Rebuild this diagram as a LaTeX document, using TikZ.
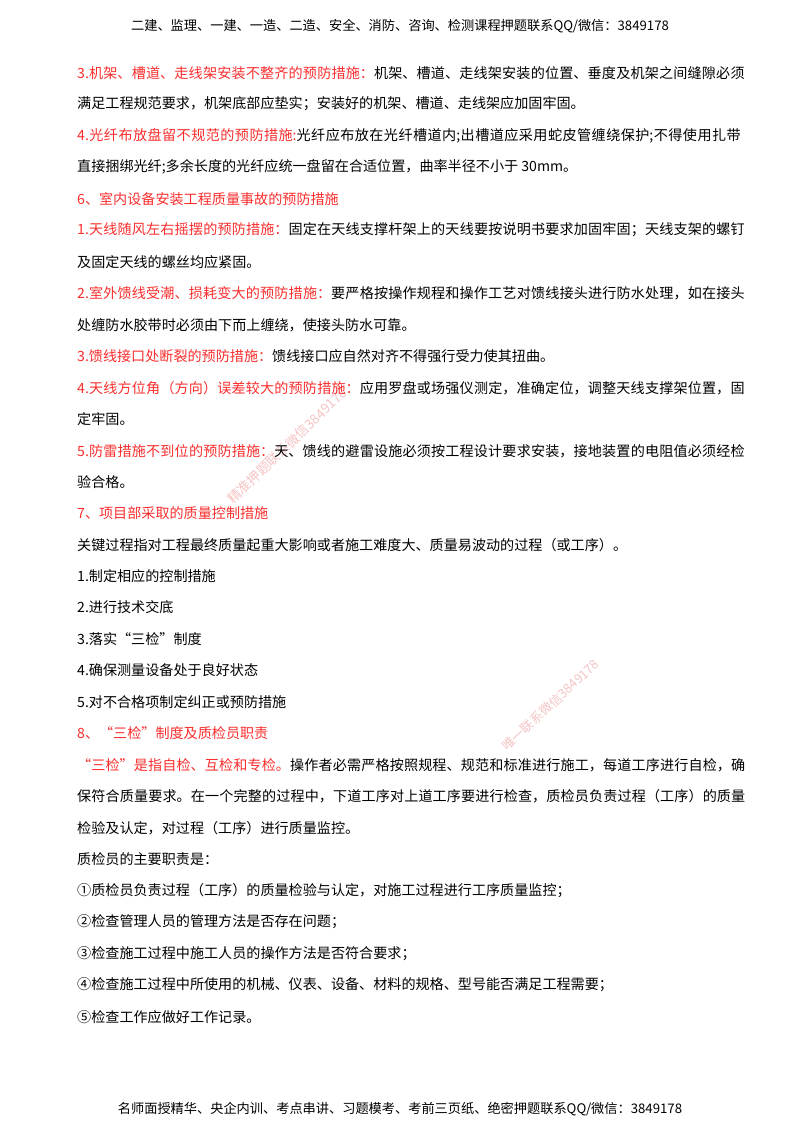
\documentclass[tikz,border=0pt]{standalone}
\usepackage{fontspec}
\setmainfont{Noto Sans CJK SC}
\XeTeXlinebreaklocale "zh"
\XeTeXlinebreakskip=0pt plus 2pt minus 0.3pt
\usepackage{tikz}
\definecolor{headred}{RGB}{250,45,45}
\definecolor{markpink}{RGB}{245,195,195}
\newcommand{\bodysize}{\fontsize{14.1}{16}\selectfont}
\newcommand{\redtext}[1]{\textcolor{headred}{#1}}
\tikzset{
	banner/.style={inner sep=0pt,font=\fontsize{13.2}{16}\selectfont},
	fullline/.style={anchor=west,inner sep=0pt,text width=670pt,font=\bodysize,execute at begin node={\parfillskip 0pt\relax}},
	shortline/.style={anchor=west,inner sep=0pt,font=\bodysize},
	wmark/.style={anchor=south west,inner sep=0pt,rotate=44,text=markpink,font=\fontsize{13.4}{16}\selectfont}
}

\begin{document}
\begin{tikzpicture}[x=1pt,y=-1pt]
	\useasboundingbox (0,0) rectangle (800,1132);

	\node [wmark] (markA) at (234,506) {精准押题联系微信3849178};
	\node [wmark,rotate=-1,font=\fontsize{12.8}{16}\selectfont] (markB) at (508,753) {唯一联系微信3849178};

	\node [banner] (top) at (400,26) {二建、监理、一建、一造、二造、安全、消防、咨询、检测课程押题联系QQ/微信：3849178};

	\node [fullline] (l1) at (77,73) {\redtext{3.机架、槽道、走线架安装不整齐的预防措施：}机架、槽道、走线架安装的位置、垂度及机架之间缝隙必须};
	\node [shortline] (l2) at (77,104) {满足工程规范要求，机架底部应垫实；安装好的机架、槽道、走线架应加固牢固。};
	\node [fullline] (l3) at (77,136) {\redtext{4.光纤布放盘留不规范的预防措施:}光纤应布放在光纤槽道内;出槽道应采用蛇皮管缠绕保护;不得使用扎带};
	\node [shortline] (l4) at (77,167) {直接捆绑光纤;多余长度的光纤应统一盘留在合适位置，曲率半径不小于 30mm。};
	\node [shortline] (l5) at (77,199) {\redtext{6、室内设备安装工程质量事故的预防措施}};
	\node [fullline] (l6) at (77,230) {\redtext{1.天线随风左右摇摆的预防措施：}固定在天线支撑杆架上的天线要按说明书要求加固牢固；天线支架的螺钉};
	\node [shortline] (l7) at (77,262) {及固定天线的螺丝均应紧固。};
	\node [fullline] (l8) at (77,293) {\redtext{2.室外馈线受潮、损耗变大的预防措施：}要严格按操作规程和操作工艺对馈线接头进行防水处理，如在接头};
	\node [shortline] (l9) at (77,325) {处缠防水胶带时必须由下而上缠绕，使接头防水可靠。};
	\node [shortline] (l10) at (77,356) {\redtext{3.馈线接口处断裂的预防措施：}馈线接口应自然对齐不得强行受力使其扭曲。};
	\node [fullline] (l11) at (77,388) {\redtext{4.天线方位角（方向）误差较大的预防措施：}应用罗盘或场强仪测定，准确定位，调整天线支撑架位置，固};
	\node [shortline] (l12) at (77,419) {定牢固。};
	\node [fullline] (l13) at (77,451) {\redtext{5.防雷措施不到位的预防措施：}天、馈线的避雷设施必须按工程设计要求安装，接地装置的电阻值必须经检};
	\node [shortline] (l14) at (77,482) {验合格。};
	\node [shortline] (l15) at (77,513) {\redtext{7、项目部采取的质量控制措施}};
	\node [shortline] (l16) at (77,545) {关键过程指对工程最终质量起重大影响或者施工难度大、质量易波动的过程（或工序）。};
	\node [shortline] (l17) at (77,576) {1.制定相应的控制措施};
	\node [shortline] (l18) at (77,607) {2.进行技术交底};
	\node [shortline] (l19) at (77,639) {3.落实“三检”制度};
	\node [shortline] (l20) at (77,670) {4.确保测量设备处于良好状态};
	\node [shortline] (l21) at (77,702) {5.对不合格项制定纠正或预防措施};
	\node [shortline] (l22) at (77,733) {\redtext{8、“三检”制度及质检员职责}};
	\node [fullline] (l23) at (77,765) {\redtext{“三检”是指自检、互检和专检。}操作者必需严格按照规程、规范和标准进行施工，每道工序进行自检，确};
	\node [fullline] (l24) at (77,796) {保符合质量要求。在一个完整的过程中，下道工序对上道工序要进行检查，质检员负责过程（工序）的质量};
	\node [shortline] (l25) at (77,828) {检验及认定，对过程（工序）进行质量监控。};
	\node [shortline] (l26) at (77,859) {质检员的主要职责是：};
	\node [shortline] (l27) at (77,891) {①质检员负责过程（工序）的质量检验与认定，对施工过程进行工序质量监控；};
	\node [shortline] (l28) at (77,922) {②检查管理人员的管理方法是否存在问题；};
	\node [shortline] (l29) at (77,954) {③检查施工过程中施工人员的操作方法是否符合要求；};
	\node [shortline] (l30) at (77,985) {④检查施工过程中所使用的机械、仪表、设备、材料的规格、型号能否满足工程需要；};
	\node [shortline] (l31) at (77,1017) {⑤检查工作应做好工作记录。};

	\node [banner] (bottom) at (400,1109) {名师面授精华、央企内训、考点串讲、习题模考、考前三页纸、绝密押题联系QQ/微信：3849178};
\end{tikzpicture}
\end{document}
